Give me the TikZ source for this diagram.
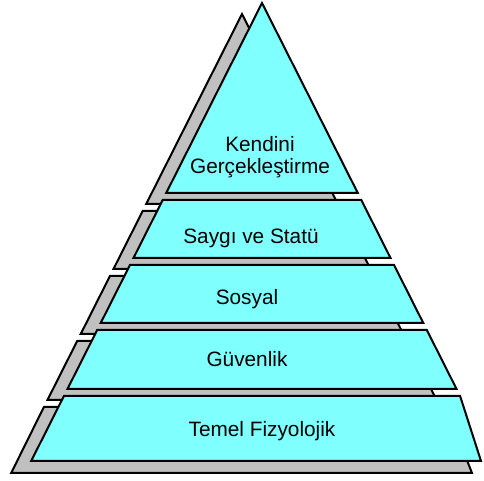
\documentclass[tikz,border=0pt]{standalone}
\usepackage{fontspec}
\setmainfont{Liberation Sans}
\usepackage{tikz}
\definecolor{layerfill}{RGB}{128, 255, 255}
\definecolor{shadefill}{RGB}{192, 192, 192}
\tikzset{
  font=\fontsize{10.4}{10.85}\selectfont,
  layerblock/.style={draw=black, fill=layerfill, line width=1pt, line join=miter},
  layershade/.style={draw=black, fill=shadefill, line width=1pt, shift={(-20,11)}},
  layerlabel/.style={align=center, text=black, inner sep=0pt}
}

\begin{document}
\begin{tikzpicture}[x=0.5pt, y=-0.5pt]
  \useasboundingbox (0,0) rectangle (484,481);

  % Level 5: top triangle
  \draw[layershade] (262,3) -- (357.8,193) -- (166.2,193) -- cycle;
  \draw[layerblock] (262,3) -- (357.8,193) -- (166.2,193) -- cycle;

  % Levels 4 to 2: trapezoids with their grey side
  \foreach \yt/\yb in {200/258, 265/323, 330/389} {
    \draw[layershade] ({262-0.504*(\yt-3)},\yt) -- ({262+0.504*(\yt-3)},\yt)
      -- ({262+0.504*(\yb-3)},\yb) -- ({262-0.504*(\yb-3)},\yb) -- cycle;
    \draw[layerblock] ({262-0.504*(\yt-3)},\yt) -- ({262+0.504*(\yt-3)},\yt)
      -- ({262+0.504*(\yb-3)},\yb) -- ({262-0.504*(\yb-3)},\yb) -- cycle;
  }

  % Level 1: base
  \draw[layershade, shift={(20,-11)}] (43.9,407) -- (446,407) -- (472,473) -- (11.2,473) -- cycle;
  \draw[layerblock] (63.9,396) -- (460.1,396) -- (481,461) -- (31.2,461) -- cycle;

  % Labels
  \node[layerlabel] (selfact) at (260,157) {Kendini\\Gerçekleştirme};
  \node[layerlabel, anchor=base] (esteem) at (251,244) {Saygı ve Statü};
  \node[layerlabel, anchor=base] (social) at (247,305) {Sosyal};
  \node[layerlabel, anchor=base] (safety) at (247,367) {Güvenlik};
  \node[layerlabel, anchor=base] (physio) at (262,437) {Temel Fizyolojik};
\end{tikzpicture}
\end{document}
